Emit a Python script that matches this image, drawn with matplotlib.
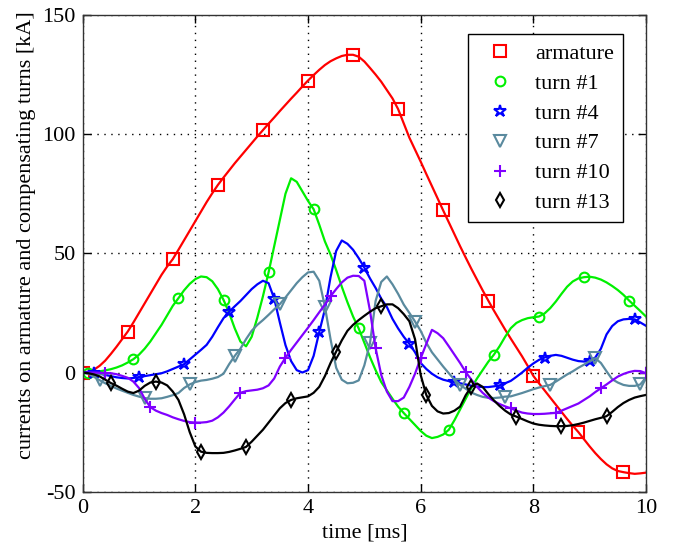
import numpy as np
import matplotlib
matplotlib.use("Agg")
import matplotlib.pyplot as plt

plt.rcParams['font.family'] = ['Liberation Serif', 'DejaVu Serif']
plt.rcParams['axes.unicode_minus'] = False

# time axis, 0.1 ms sampling
t = np.linspace(0, 10, 101)

armature = [0, 0.3, 1.2, 2.8, 5.0, 7.8, 10.8, 14.0, 17.2, 21.0,
            25.0, 29.0, 33.0, 37.0, 41.0, 44.5, 47.6, 51.5, 55.5, 59.5,
            63.5, 67.5, 71.5, 75.2, 78.7, 81.8, 84.8, 87.8, 90.6, 93.4,
            96.2, 99.0, 101.7, 104.4, 107.0, 109.7, 112.3, 114.9, 117.4, 120.0,
            122.5, 124.8, 127.0, 129.0, 130.6, 131.8, 132.8, 133.3, 133.3, 132.5,
            130.5, 127.8, 125.0, 122.0, 118.5, 115.0, 110.5, 104.5, 98.5, 93.5,
            88.5, 83.3, 78.2, 73.1, 68.0, 63.0, 58.0, 53.0, 48.2, 43.5,
            39.0, 34.5, 30.2, 26.0, 22.0, 18.0, 14.2, 10.5, 6.8, 2.8,
            -1.4, -4.5, -7.5, -10.5, -13.5, -16.5, -19.5, -22.3, -25.0, -28.0,
            -31.0, -33.8, -36.3, -38.5, -40.2, -41.3, -41.8, -42.2, -42.5, -42.3,
            -42.0]

turn1 = [0, 0, 0.2, 0.5, 0.9, 1.4, 2.1, 3.0, 4.2, 5.6,
         7.5, 10, 13, 16.5, 20, 24, 28, 31.2, 34.5, 37.2,
         39.2, 40.3, 40, 38.3, 35, 30.5, 25, 18.5, 13, 11,
         15, 23, 32, 42, 53, 64, 75, 81.5, 80, 76,
         72, 68.5, 62, 55, 49.5, 43, 36, 29.5, 23.5, 18.5,
         12.5, 6.5, 1, -4, -7.5, -11, -14.3, -17, -19.5, -22,
         -24.5, -26.5, -27.5, -27, -26, -24, -20, -15.5, -11, -6.5,
         -2.5, 1, 4.5, 7.5, 11, 15, 18.6, 20.8, 22, 22.8,
         23.2, 23.5, 24.8, 27, 29.8, 33, 36, 38.2, 39.5, 40,
         40.2, 39.8, 39, 37.8, 36.3, 34.6, 32.6, 30.2, 28, 25.8,
         23.5]

turn4 = [0, 0.3, 0, -0.5, -1, -1.5, -2, -2.3, -2.5, -2.3,
         -1.9, -1.5, -1.1, -0.7, -0.3, 0.5, 1.5, 2.5, 3.5, 5.5,
         7.5, 9.5, 11.6, 15, 19, 22.8, 25.5, 27.8, 30, 32.5,
         35, 37, 38.5, 37.5, 31, 21, 11.5, 4.8, 1, 0,
         1, 7, 17, 26.5, 40, 51, 55.4, 54, 51.5, 48,
         44, 39.5, 35.5, 31, 27.5, 22.5, 18.5, 15, 12, 8.5,
         4, 1.5, -0.5, -2, -3, -3.6, -4, -4.5, -5, -5.5,
         -5.9, -6.1, -6.1, -5.8, -5.4, -4.5, -3.5, -1.8, 0, 2,
         3.8, 5.3, 6.3, 7, 7.4, 7, 6.2, 5.4, 4.8, 4.6,
         4.8, 6.3, 10, 16, 19.5, 21.5, 22.3, 22.5, 22.3, 21,
         19.6]

turn7 = [0, -0.5, -1.8, -3.2, -4.5, -5.6, -6.7, -7.6, -8.5, -9.4,
         -10.1, -10.7, -11, -11, -10.8, -10.2, -9.5, -8.6, -6.5, -5,
         -4, -3.4, -3.1, -2.6, -1.9, -0.5, 3.5, 7, 10, 14,
         17.5, 20, 22, 24.2, 26.5, 28.7, 31.5, 34.5, 37.5, 40,
         42, 42.3, 38.5, 27.7, 14, 2, -3, -4.5, -4.3, -3.3,
         3, 12.3, 30, 38, 40.3, 37, 33, 28.5, 25, 21.4,
         17.5, 12.5, 8.5, 5.5, 2.5, -0.3, -3, -5.2, -6.8, -8.4,
         -9.4, -10.2, -10.6, -10.7, -10.5, -10.1, -10, -9.3, -8.6, -7.8,
         -7, -6.3, -5.7, -5.2, -3.8, -2.3, -0.8, 0.5, 2, 3.3,
         4.8, 6, 4, 0.5, -2.8, -4.2, -5.2, -5.6, -5.6, -5,
         -2]

turn10 = [0, 0, 0, -0.1, -0.2, -0.3, -0.7, -1.4, -2.2, -3.8,
          -6.5, -11, -14.5, -16, -17, -17.8, -18.8, -19.6, -20.3, -20.8,
          -21, -21, -20.8, -20.2, -18.8, -16.8, -14.2, -11.3, -8.5, -7.8,
          -7.5, -7.2, -6.6, -5.4, -2.5, 2.5, 6.2, 9.5, 12.6, 15.7,
          18.8, 22, 25.3, 28.5, 32, 35, 37.8, 39.8, 40.6, 40.5,
          38.5, 26, 10.2, -1, -8, -12, -12, -10.5, -6, -0.5,
          6, 12, 17.9, 16.5, 14.4, 11, 7.5, 4, 0.2, -3,
          -6, -8.5, -10.5, -12, -13.2, -14.2, -15, -16, -16.8, -17.2,
          -17.4, -17.4, -17.3, -17.1, -16.9, -16, -15, -14, -13, -11.5,
          -10, -8.2, -6.6, -5, -3.3, -1.7, -0.6, 0.2, 0.7, 0.6,
          -0.3]

turn13 = [0, -0.3, -0.8, -1.6, -3, -4.4, -5.5, -6.8, -8, -8.6,
          -7.6, -5.6, -4.2, -3.8, -4.2, -5.4, -8, -11.5, -17.5, -25,
          -31, -33.2, -33.7, -33.8, -33.8, -33.7, -33.3, -32.7, -32, -31.2,
          -29, -26.5, -24, -21, -18, -15, -12.8, -11.5, -10.8, -10.4,
          -10, -8.5, -6, -1.5, 4, 8.8, 13.5, 17.5, 20, 22,
          23.8, 25.5, 27, 27.8, 28.6, 28.6, 27, 24.5, 21.5, 14,
          -1, -9.4, -14, -16.3, -17.2, -17, -16, -14.3, -9.5, -5.9,
          -4.6, -6, -9, -11.7, -14, -16, -17.6, -18.5, -19.5, -20.5,
          -21.4, -21.9, -22.2, -22.4, -22.5, -22.5, -22.4, -22.1, -21.6, -21,
          -20.3, -19.6, -19, -18.3, -16.5, -14.5, -12.8, -11.5, -10.5, -9.9,
          -9.4]

labels = ['armature', 'turn #1', 'turn #4', 'turn #7', 'turn #10', 'turn #13']
series = [armature, turn1, turn4, turn7, turn10, turn13]
colors = ['#ff0000', '#00f000', '#0000ff', '#5a8a9e', '#8000ff', '#000000']
markers = ['s', 'o', '*', 'v', '+', 'd']
msizes = [8, 7, 9, 8, 9, 7]

fig = plt.figure(figsize=(6.75, 5.51), dpi=100)
ax = fig.add_axes([0.1225, 0.1076, 0.8345, 0.8652])

for k, (y, c, m, ms, lab) in enumerate(zip(series, colors, markers, msizes, labels)):
    ax.plot(t, y, '-', color=c, lw=1.6)
    # every 8th sample, each turn shifted by one sample
    ax.plot(t, y, linestyle='none', marker=m, ms=ms, mfc='none', mec=c,
            mew=1.5, markevery=(k, 8), label=lab)

ax.set_xlim(0, 10)
ax.set_ylim(-50, 150)
ax.set_xticks([0, 2, 4, 6, 8, 10])
ax.set_yticks([-50, 0, 50, 100, 150])
ax.grid(True, color='black', linestyle=(0, (1, 4)), linewidth=1.0)
ax.tick_params(direction='in', length=6, width=1, top=True, right=True,
               labelsize=16, pad=5)
for s in ax.spines.values():
    s.set_linewidth(1.0)
    s.set_color('#333333')

ax.set_xlabel('time [ms]', fontsize=16, labelpad=4)
ax.set_ylabel('currents on armature and compensating turns [kA]', fontsize=16)
ax.yaxis.set_label_coords(-0.083, 0.538)

leg = ax.legend(loc='upper right', fontsize=16, numpoints=1, handlelength=2.0,
                handletextpad=0.6, labelspacing=0.42, borderpad=0.4,
                borderaxespad=0, bbox_to_anchor=(0.959, 0.9595),
                fancybox=False, framealpha=1)
leg.get_frame().set_edgecolor('black')
leg.get_frame().set_linewidth(1.0)

fig.savefig('out.png', dpi=100)
